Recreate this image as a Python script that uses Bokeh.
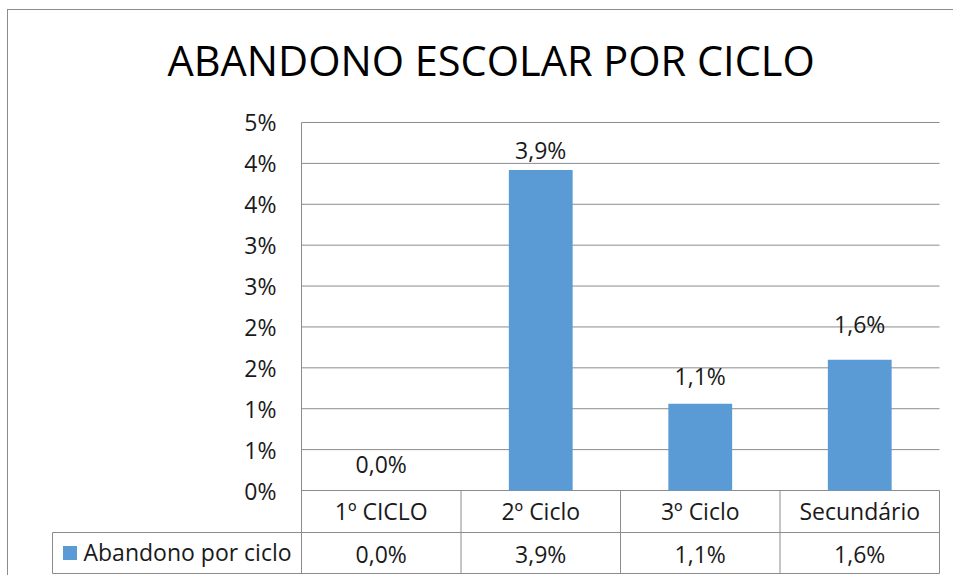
import numpy as np
from bokeh.plotting import figure
from bokeh.models import (Range1d, LinearAxis, FixedTicker, CustomJSTickFormatter,
                          ColumnDataSource)
from bokeh.core.properties import value
from bokeh.embed import file_html
from bokeh.resources import INLINE

# ---------------- data ----------------
TITLE = "ABANDONO ESCOLAR POR CICLO"
CATEGORIES = ["1º CICLO", "2º Ciclo", "3º Ciclo", "Secundário"]
VALUES = [0.0, 3.92, 1.06, 1.6]          # percent
SERIES_NAME = "Abandono por ciclo"
Y_TICKS = [0, 0.5, 1, 1.5, 2, 2.5, 3, 3.5, 4, 4.5]
Y_TICK_LABELS = ["0%", "1%", "1%", "2%", "2%", "3%", "3%", "4%", "4%", "5%"]

# ---------------- layout (reference pixels) ----------------
OX, OY = 8, 10                # page position of canvas origin
W, H = 946, 566
AXIS_X = 301                  # x of value axis
CAT_W = 159.5                 # px per category
ZERO_Y = 490                  # y of 0%
PX_PCT = 81.78                # px per 1 %
FR_L, FR_R, FR_T, FR_B = 51, 941, 10, 574
ROW_DIV_Y = 532
TABLE_BOT_Y = 573
LEG_LEFT_X = 52
ROW1_BASE = 519
ROW2_BASE = 562.5
LEG_BASE = 560
TITLE_X, TITLE_BASE = 167, 75
TXT_SHIFT = -9                       # baseline correction of 23px text glyphs
TITLE_SHIFT = -16                    # baseline correction of the 41.5px title
LABEL_NUDGE = [-18, -11, -19, -27]   # px from bar top to label baseline

FONT = value("Open Sans")
GRID_C = "#8C8C8C"
TXT_C = "#1A1A1A"
BAR_C = "#5B9BD5"


def dx(px):
    return (px - AXIS_X) / CAT_W


def dy(py):
    return (ZERO_Y - py) / PX_PCT


p = figure(width=W, height=H,
           x_range=Range1d(dx(FR_L), dx(FR_R)), y_range=Range1d(dy(FR_B), dy(FR_T)),
           x_axis_location=None, y_axis_location=None,
           output_backend="svg", toolbar_location=None,
           min_border_left=FR_L - OX, min_border_right=W - (FR_R - OX),
           min_border_top=FR_T - OY, min_border_bottom=H - (FR_B - OY))
p.outline_line_color = None
p.grid.visible = False
p.background_fill_color = "white"
p.border_fill_color = "white"
p.styles = {"margin-left": "7px", "margin-top": "9px",
            "border-top": "1px solid #8C8C8C", "border-left": "1px solid #8C8C8C"}

n = len(CATEGORIES)
xc = np.arange(n) + 0.5

# chart title
p.text(x=[dx(TITLE_X)], y=[dy(TITLE_BASE)], text=[TITLE], text_align="left",
       text_baseline="alphabetic", y_offset=TITLE_SHIFT, text_font=FONT,
       text_font_size="41.5px", text_color="#000000")

# value axis at category edge 0
yaxis = LinearAxis(fixed_location=0,
                   ticker=FixedTicker(ticks=Y_TICKS),
                   formatter=CustomJSTickFormatter(
                       args=dict(vals=Y_TICKS, labels=Y_TICK_LABELS),
                       code="const i = vals.indexOf(tick); return i >= 0 ? labels[i] : '';"))
yaxis.axis_line_color = None
yaxis.major_tick_out = 0
yaxis.major_tick_in = 0
yaxis.minor_tick_out = 0
yaxis.minor_tick_in = 0
yaxis.major_tick_line_color = None
yaxis.minor_tick_line_color = None
yaxis.major_label_standoff = 25
yaxis.major_label_text_font = "Open Sans"
yaxis.major_label_text_font_size = "23px"
yaxis.major_label_text_color = TXT_C
p.add_layout(yaxis, "left")

# axis line (plot area + data table)
p.segment(x0=[0], x1=[0], y0=[Y_TICKS[-1]], y1=[dy(TABLE_BOT_Y)], line_color=GRID_C, line_width=1)

# gridlines over the plot area
p.segment(x0=0, x1=n, y0=Y_TICKS, y1=Y_TICKS, line_color=GRID_C, line_width=1)

# bars
p.vbar(x=xc, top=VALUES, bottom=0, width=0.4, fill_color=BAR_C, line_color=None)


def fmt(v):
    return f"{v:.1f}".replace(".", ",") + "%"


labels = [fmt(v) for v in VALUES]
src = ColumnDataSource(dict(x=xc, y=VALUES, t=labels,
                            off=[o + TXT_SHIFT for o in LABEL_NUDGE]))
p.text(x="x", y="y", text="t", y_offset="off", source=src, text_align="center",
       text_baseline="alphabetic", text_font=FONT, text_font_size="23px", text_color=TXT_C)

# data table
p.segment(x0=[dx(LEG_LEFT_X), dx(LEG_LEFT_X)], x1=[n, n],
          y0=[dy(ROW_DIV_Y), dy(TABLE_BOT_Y)], y1=[dy(ROW_DIV_Y), dy(TABLE_BOT_Y)],
          line_color=GRID_C, line_width=1)
p.segment(x0=list(range(1, n + 1)), x1=list(range(1, n + 1)),
          y0=[0] * n, y1=[dy(TABLE_BOT_Y)] * n, line_color=GRID_C, line_width=1)
p.segment(x0=[dx(LEG_LEFT_X)], x1=[dx(LEG_LEFT_X)], y0=[dy(ROW_DIV_Y)], y1=[dy(TABLE_BOT_Y)],
          line_color=GRID_C, line_width=1)

p.text(x=xc, y=[dy(ROW1_BASE)] * n, text=CATEGORIES, text_align="center", y_offset=TXT_SHIFT,
       text_baseline="alphabetic", text_font=FONT, text_font_size="23px", text_color=TXT_C)
p.text(x=xc, y=[dy(ROW2_BASE)] * n, text=labels, text_align="center", y_offset=TXT_SHIFT,
       text_baseline="alphabetic", text_font=FONT, text_font_size="23px", text_color=TXT_C)

# legend key in table
p.scatter(x=[dx(69.5)], y=[dy(552.5)], marker="square", size=14,
          fill_color=BAR_C, line_color=None)
p.text(x=[dx(83)], y=[dy(LEG_BASE)], text=[SERIES_NAME], text_align="left", y_offset=TXT_SHIFT,
       text_baseline="alphabetic", text_font=FONT, text_font_size="23px", text_color=TXT_C)

open("out.html", "w").write(file_html(p, INLINE))
